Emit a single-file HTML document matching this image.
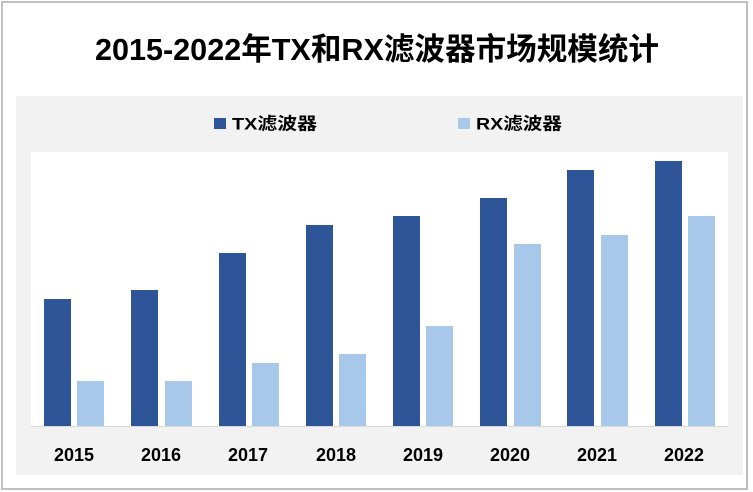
<!DOCTYPE html>
<html>
<head>
<meta charset="utf-8">
<style>
  html,body{margin:0;padding:0;background:#ffffff;}
  svg{display:block;}
  text{font-family:"Liberation Sans","Noto Sans CJK SC",sans-serif;font-weight:bold;fill:#000;}
</style>
</head>
<body>
<svg width="753" height="492" viewBox="0 0 753 492" xmlns="http://www.w3.org/2000/svg">
  <rect x="0" y="0" width="753" height="492" fill="#ffffff"/>
  <rect x="2" y="2" width="745" height="487" fill="none" stroke="#bfbfbf" stroke-width="2"/>

  <text x="95" y="60" font-size="31" textLength="564" lengthAdjust="spacingAndGlyphs">2015-2022年TX和RX滤波器市场规模统计</text>

  <rect x="16" y="96" width="727" height="379" fill="#f2f2f2"/>
  <rect x="31" y="152" width="697" height="274" fill="#ffffff"/>

  <!-- legend -->
  <rect x="214" y="118" width="12" height="11" fill="#2e5597"/>
  <text x="232" y="129.5" font-size="17" textLength="85" lengthAdjust="spacingAndGlyphs">TX滤波器</text>
  <rect x="458" y="118" width="12" height="11" fill="#a7c8e9"/>
  <text x="476" y="129.5" font-size="17" textLength="86" lengthAdjust="spacingAndGlyphs">RX滤波器</text>

  <!-- TX bars -->
  <g fill="#2e5597">
    <rect x="44" y="299" width="27" height="127"/>
    <rect x="131" y="290" width="27" height="136"/>
    <rect x="219" y="253" width="27" height="173"/>
    <rect x="306" y="225" width="27" height="201"/>
    <rect x="393" y="216" width="27" height="210"/>
    <rect x="480" y="198" width="27" height="228"/>
    <rect x="567" y="170" width="27" height="256"/>
    <rect x="655" y="161" width="27" height="265"/>
  </g>
  <!-- RX bars -->
  <g fill="#a7c8e9">
    <rect x="77" y="381" width="27" height="45"/>
    <rect x="165" y="381" width="27" height="45"/>
    <rect x="252" y="363" width="27" height="63"/>
    <rect x="339" y="354" width="27" height="72"/>
    <rect x="426" y="326" width="27" height="100"/>
    <rect x="514" y="244" width="27" height="182"/>
    <rect x="601" y="235" width="27" height="191"/>
    <rect x="688" y="216" width="27" height="210"/>
  </g>
  <line x1="31" y1="426.5" x2="728" y2="426.5" stroke="#d9d9d9" stroke-width="1"/>

  <!-- axis labels -->
  <g font-size="18" text-anchor="middle">
    <text x="74" y="461">2015</text>
    <text x="161" y="461">2016</text>
    <text x="248" y="461">2017</text>
    <text x="336" y="461">2018</text>
    <text x="423" y="461">2019</text>
    <text x="510" y="461">2020</text>
    <text x="597" y="461">2021</text>
    <text x="684" y="461">2022</text>
  </g>
</svg>
</body>
</html>
